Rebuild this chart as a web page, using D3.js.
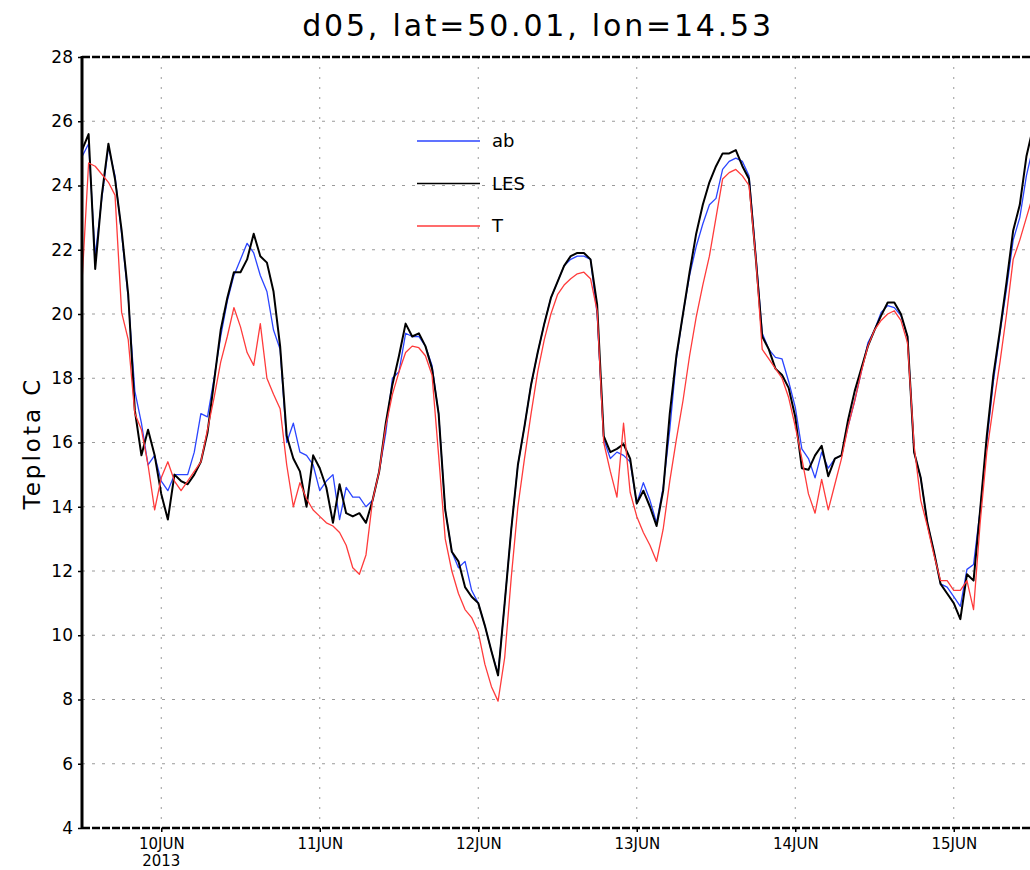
<!DOCTYPE html>
<html>
<head>
<meta charset="utf-8" />
<title>d05 Teplota</title>
<script src="https://d3js.org/d3.v7.min.js"></script>
<style>
  body { margin: 0; background: #fff; }
  svg { display: block; }
  text { font-family: "DejaVu Sans", "Liberation Sans", sans-serif; fill: #000; }
  .grid line { stroke: #9a9a9a; stroke-width: 1; stroke-dasharray: 2,8; }
  .series { fill: none; stroke-linejoin: round; }
</style>
</head>
<body>
<script>
// hourly values from 9 Jun 2013 12:00 UTC to 15 Jun 2013 12:00 UTC
var startTime = new Date(Date.UTC(2013, 5, 9, 12));
var endTime = new Date(Date.UTC(2013, 5, 15, 12));

var ab = [
  24.9,25.3,21.8,23.6,25.2,24.3,22.5,20.5,17.6,16.6,
  15.3,15.6,14.8,14.5,15.0,15.0,15.0,15.7,16.9,16.8,
  18.0,19.3,20.4,21.2,21.7,22.2,21.9,21.2,20.7,19.5,
  18.9,16.0,16.6,15.7,15.6,15.3,14.5,14.8,15.0,13.6,
  14.6,14.3,14.3,14.0,14.2,15.1,16.3,18.0,18.2,19.4,
  19.3,19.3,19.0,18.4,16.9,13.9,12.6,12.1,12.3,11.4,
  11.0,10.3,9.5,8.8,11.0,13.3,15.3,16.5,17.8,18.8,
  19.7,20.5,21.0,21.5,21.7,21.8,21.8,21.7,20.0,16.1,
  15.5,15.7,15.6,15.4,14.1,14.75,14.2,13.5,14.6,16.4,
  18.6,20.0,21.2,22.1,22.8,23.4,23.6,24.5,24.75,24.85,
  24.75,24.3,21.9,19.4,18.9,18.65,18.6,17.9,17.1,15.8,
  15.5,14.9,15.7,15.2,15.5,15.6,16.5,17.3,18.2,19.1,
  19.5,20.05,20.26,20.2,19.95,19.3,15.7,14.9,13.5,12.6,
  11.6,11.5,11.2,10.9,12.05,12.2,13.9,16.0,17.9,19.4,
  20.8,22.3,23.0,24.3,25.2
];

var les = [
  25.1,25.6,21.4,23.7,25.3,24.2,22.6,20.6,17.0,15.6,
  16.4,15.6,14.4,13.6,15.0,14.8,14.7,15.0,15.4,16.3,
  17.9,19.5,20.5,21.3,21.3,21.7,22.5,21.8,21.6,20.7,
  19.0,16.2,15.5,15.1,14.0,15.6,15.2,14.6,13.5,14.7,
  13.8,13.7,13.8,13.5,14.2,15.1,16.6,17.8,18.7,19.7,
  19.3,19.4,19.0,18.3,16.9,13.9,12.6,12.3,11.5,11.2,
  11.0,10.3,9.5,8.75,11.0,13.3,15.3,16.5,17.8,18.8,
  19.7,20.5,21.0,21.5,21.8,21.9,21.9,21.7,20.3,16.2,
  15.7,15.8,15.95,15.5,14.1,14.5,14.0,13.4,14.5,16.9,
  18.7,20.0,21.3,22.5,23.4,24.1,24.6,25.0,25.0,25.1,
  24.6,24.2,21.8,19.3,18.9,18.3,18.1,17.7,16.8,15.2,
  15.15,15.6,15.9,14.95,15.5,15.6,16.7,17.6,18.3,19.0,
  19.5,19.95,20.36,20.36,20.0,19.3,15.7,14.9,13.5,12.6,
  11.6,11.3,11.0,10.5,11.9,11.7,13.9,16.2,18.1,19.5,
  21.0,22.6,23.4,24.9,25.8
];

var t = [
  21.0,24.7,24.6,24.35,24.1,23.7,20.05,19.2,16.9,16.4,
  15.3,13.9,14.9,15.4,14.8,14.5,14.8,15.1,15.4,16.4,
  17.4,18.5,19.3,20.2,19.6,18.8,18.4,19.7,18.0,17.5,
  17.05,15.3,14.0,14.75,14.25,13.9,13.7,13.5,13.4,13.2,
  12.8,12.1,11.9,12.5,14.2,15.1,16.5,17.5,18.2,18.8,
  19.0,18.95,18.7,18.1,15.6,13.0,12.0,11.3,10.8,10.55,
  10.1,9.1,8.4,7.95,9.3,11.8,14.0,15.5,16.9,18.2,
  19.2,20.0,20.6,20.9,21.1,21.25,21.3,21.1,20.1,16.0,
  15.1,14.3,16.6,14.45,13.7,13.2,12.8,12.3,13.3,14.8,
  16.1,17.3,18.7,19.9,20.9,21.8,23.0,24.2,24.4,24.5,
  24.3,24.0,21.8,18.9,18.6,18.3,18.0,17.4,16.5,15.5,
  14.4,13.8,14.85,13.9,14.7,15.5,16.5,17.3,18.2,19.0,
  19.5,19.8,20.0,20.1,19.8,19.1,15.9,14.2,13.4,12.5,
  11.7,11.7,11.4,11.4,11.7,10.8,13.5,15.7,17.15,18.5,
  20.0,21.7,22.3,23.0,23.7
];

var seriesNames = ["ab", "LES", "T"];
var seriesColors = ["#2b45ff", "#000000", "#ff3b3b"];
var seriesWidths = [1.3, 2, 1.3];
var yTicks = [4, 6, 8, 10, 12, 14, 16, 18, 20, 22, 24, 26, 28];
var dayTicks = [10, 11, 12, 13, 14, 15];
var months = ["JAN","FEB","MAR","APR","MAY","JUN","JUL","AUG","SEP","OCT","NOV","DEC"];

var W = 1030, H = 870;
var margin = { left: 82, right: 1033, top: 57, bottom: 828 };

var svg = d3.select("body").append("svg")
    .attr("width", W)
    .attr("height", H);

var x = d3.scaleUtc().domain([startTime, endTime]).range([margin.left, margin.right]);
var y = d3.scaleLinear().domain([4, 28]).range([margin.bottom, margin.top]);

function timeAt(i) { return new Date(startTime.getTime() + i * 3600 * 1000); }
function dayDate(d) { return new Date(Date.UTC(2013, 5, d)); }

// grid
var grid = svg.append("g").attr("class", "grid");
grid.selectAll(".hg").data(yTicks.slice(1, -1)).enter().append("line")
    .attr("x1", margin.left).attr("x2", margin.right)
    .attr("y1", function(d) { return y(d); })
    .attr("y2", function(d) { return y(d); })
    .style("stroke-dasharray", "3,7");
grid.selectAll(".vg").data(dayTicks).enter().append("line")
    .attr("x1", function(d) { return x(dayDate(d)); })
    .attr("x2", function(d) { return x(dayDate(d)); })
    .attr("y1", margin.top).attr("y2", margin.bottom);

// lines
svg.append("clipPath").attr("id", "plotclip")
  .append("rect").attr("x", margin.left).attr("y", margin.top)
  .attr("width", margin.right - margin.left).attr("height", margin.bottom - margin.top);

var line = d3.line()
    .x(function(d, i) { return x(timeAt(i)); })
    .y(function(d) { return y(d); });

var allSeries = [ab, les, t];
allSeries.forEach(function(s, k) {
  svg.append("path")
    .datum(s)
    .attr("class", "series")
    .attr("clip-path", "url(#plotclip)")
    .attr("stroke", seriesColors[k])
    .attr("stroke-width", seriesWidths[k])
    .attr("d", line);
});

// frame
svg.append("line").attr("x1", margin.left).attr("x2", margin.left)
   .attr("y1", margin.top - 1).attr("y2", margin.bottom + 1)
   .attr("stroke", "#000").attr("stroke-width", 3);
[margin.top, margin.bottom].forEach(function(yy) {
  svg.append("line").attr("x1", margin.left).attr("x2", margin.right).attr("y1", yy).attr("y2", yy)
     .attr("stroke", "#000").attr("stroke-width", 2.5).attr("stroke-dasharray", "8,2");
});

// y axis
var yAxis = d3.axisLeft(y).tickValues(yTicks).tickSize(4).tickPadding(5)
    .tickFormat(d3.format("d"));
var gy = svg.append("g").attr("transform", "translate(" + margin.left + ",0)").call(yAxis);
gy.select(".domain").remove();
gy.selectAll("text").style("font-size", "17px").style("font-family", "DejaVu Sans");
gy.selectAll("line").attr("stroke", "#000").attr("stroke-width", 1.5);

// x axis
var xAxis = d3.axisBottom(x)
    .tickValues(dayTicks.map(dayDate))
    .tickSize(4).tickPadding(6)
    .tickFormat(function(d) { return d.getUTCDate() + months[d.getUTCMonth()]; });
var gx = svg.append("g").attr("transform", "translate(0," + margin.bottom + ")").call(xAxis);
gx.select(".domain").remove();
gx.selectAll("text").style("font-size", "15px").style("font-family", "DejaVu Sans");
gx.selectAll("line").attr("stroke", "#000").attr("stroke-width", 1.5);

svg.append("text")
    .attr("x", x(dayDate(10)))
    .attr("y", 866)
    .attr("text-anchor", "middle")
    .style("font-size", "15px")
    .text("2013");

// title
svg.append("text")
    .attr("x", 538).attr("y", 36)
    .attr("text-anchor", "middle")
    .style("font-size", "30px")
    .style("letter-spacing", "2.8px")
    .text("d05, lat=50.01, lon=14.53");

// y label
svg.append("text")
    .attr("transform", "translate(40,443) rotate(-90)")
    .attr("text-anchor", "middle")
    .style("font-size", "23px")
    .style("letter-spacing", "3px")
    .text("Teplota C");

// legend
var legend = svg.append("g");
seriesNames.forEach(function(name, k) {
  var ly = 141 + k * 42.5;
  legend.append("line")
    .attr("x1", 417).attr("x2", 480).attr("y1", ly).attr("y2", ly)
    .attr("stroke", seriesColors[k]).attr("stroke-width", 1.3);
  legend.append("text")
    .attr("x", 492).attr("y", ly + 6)
    .style("font-size", "18px")
    .text(name);
});
</script>
</body>
</html>
